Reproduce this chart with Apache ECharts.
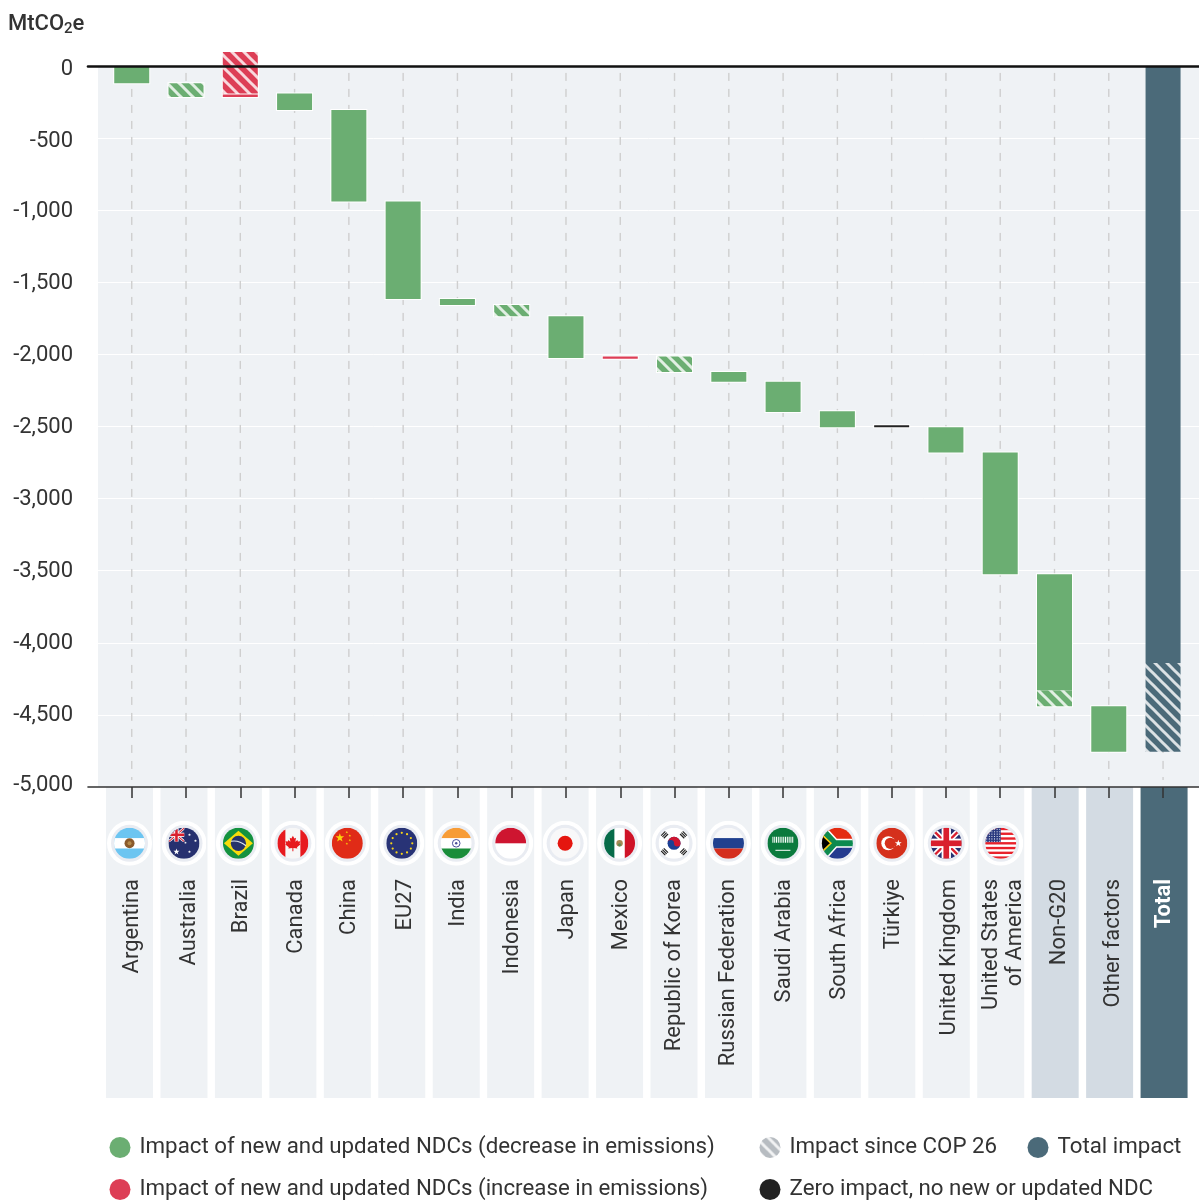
<!DOCTYPE html>
<html><head><meta charset="utf-8">
<style>html,body{margin:0;padding:0;background:#fff}#c{width:1199px;height:1200px}</style>
<script src="https://cdn.jsdelivr.net/npm/echarts@6/dist/echarts.min.js"></script>
</head><body><div id="c"></div>
<script>
const categories = ['Argentina','Australia','Brazil','Canada','China','EU27','India','Indonesia','Japan','Mexico','Republic of Korea','Russian Federation','Saudi Arabia','South Africa','Türkiye','United Kingdom','United States\nof America','Non-G20','Other factors','Total'];
const yTicks = [0,-500,-1000,-1500,-2000,-2500,-3000,-3500,-4000,-4500,-5000];
// [category, from, to] in MtCO2e
const decreaseBars = [['Argentina',0,-120],['Canada',-190,-305],['China',-305,-940],['EU27',-940,-1615],['India',-1615,-1657],['Japan',-1735,-2025],['Russian Federation',-2122,-2190],['Saudi Arabia',-2190,-2400],['South Africa',-2395,-2505],['United Kingdom',-2505,-2680],['United States\nof America',-2680,-3525],['Non-G20',-3525,-4330],['Other factors',-4440,-4755]];
const increaseBars = [['Brazil',-198,-215],['Mexico',-2015,-2030]];
const zeroBars = [['Türkiye',-2492,-2506]];
const totalBars = [['Total',0,-4140]];
const sinceCop26Green = [['Australia',-120,-215],['Indonesia',-1657,-1735],['Republic of Korea',-2015,-2122],['Non-G20',-4330,-4440]];
const sinceCop26Red = [['Brazil',97,-190]];
const sinceCop26Total = [['Total',-4140,-4755]];
const bandGroup = ['g','g','g','g','g','g','g','g','g','g','g','g','g','g','g','g','g','n','n','t'];
const bandValue = 1, flagRow = 0.819;

const GREEN='#6bae72', RED='#dd3e56', SLATE='#4b6a79', INK='#333333', FONT='Roboto';
function hatch(base){
  const c=document.createElement('canvas');c.width=12;c.height=12;
  const x=c.getContext('2d');x.fillStyle=base;x.fillRect(0,0,12,12);
  x.strokeStyle='rgba(255,255,255,.8)';x.lineWidth=3;
  [-12,0,12].forEach(o=>{x.beginPath();x.moveTo(o-2,-2);x.lineTo(o+14,14);x.stroke();});
  return {image:c,repeat:'repeat'};
}
function star(cx,cy,r,fill){let p=[];for(let i=0;i<10;i++){const a=-Math.PI/2+i*Math.PI/5,q=i%2?r*.4:r;p.push((cx+q*Math.cos(a)).toFixed(2)+','+(cy+q*Math.sin(a)).toFixed(2));}return `<polygon points="${p.join(' ')}" fill="${fill}"/>`;}
const R=(x,y,w,h,f)=>`<rect x="${x}" y="${y}" width="${w}" height="${h}" fill="${f}"/>`;
const C=(x,y,r,f)=>`<circle cx="${x}" cy="${y}" r="${r}" fill="${f}"/>`;
function unionJack(w,h){const l=(a,b,c,d,s,k)=>`<line x1="${a}" y1="${b}" x2="${c}" y2="${d}" stroke="${s}" stroke-width="${k}"/>`;const u=h/6;
  return R(0,0,w,h,'#26306f')+l(0,0,w,h,'#fff',u*1.1)+l(w,0,0,h,'#fff',u*1.1)+l(0,0,w,h,'#d91f2e',u*.45)+l(w,0,0,h,'#d91f2e',u*.45)+R(w/2-u*.9,0,u*1.8,h,'#fff')+R(0,h/2-u*.9,w,u*1.8,'#fff')+R(w/2-u*.55,0,u*1.1,h,'#d91f2e')+R(0,h/2-u*.55,w,u*1.1,'#d91f2e');}
function trigram(x,y,rot){let s='';for(let i=-1;i<=1;i++)s+=R(-3,i*1.9-.6,6,1.2,'#222');return `<g transform="translate(${x} ${y}) rotate(${rot})">${s}</g>`;}
function usa(){let s=R(0,0,31,31,'#fff');for(let i=0;i<7;i++)s+=R(0,i*4.77,31,2.38,'#e8212b');s+=R(0,0,15.5,14.3,'#2b3a80');for(let y=1.5;y<14;y+=2.4)for(let x=1.5;x<15;x+=2.6)s+=C(x,y,.55,'#fff');return s;}
function eu(){let s=R(0,0,31,31,'#283376');for(let i=0;i<12;i++){const a=i*Math.PI/6;s+=C(15.5+10.5*Math.cos(a),15.5+10.5*Math.sin(a),1.1,'#f7d417');}return s;}
const flagArt = {
 'Argentina':R(0,0,31,31,'#6cc5f1')+R(0,10.3,31,10.4,'#fff')+C(15.5,15.5,5,'#8a5a2b')+C(15.5,15.5,2,'#b58a4a'),
 'Australia':R(0,0,31,31,'#26306f')+`<svg x="0" y="0" width="16" height="14">${unionJack(16,14)}</svg>`+star(8,24,3.2,'#fff')+star(21,7,1.6,'#fff')+star(27,13,1.6,'#fff')+star(21,24,1.6,'#fff')+star(17,15,1.4,'#fff'),
 'Brazil':R(0,0,31,31,'#14923f')+'<polygon points="15.5,3 30,15.5 15.5,28 1,15.5" fill="#f9dc0a"/>'+C(15.5,15.5,7.6,'#27336b')+'<path d="M8 13.5 Q16 12 23 18" stroke="#dfe7ee" stroke-width="1.1" fill="none"/>',
 'Canada':R(0,0,31,31,'#f7f7f7')+R(0,0,8,31,'#e71a1f')+R(23,0,8,31,'#e71a1f')+'<polygon points="15.5,8 17,10.8 18.6,10 18,14 20,12.3 20.6,13.8 23,13.4 22.2,15.8 23,16.6 19.6,19.4 20,20.6 16,20.2 16,23.5 15,23.5 15,20.2 11,20.6 11.4,19.4 8,16.6 8.8,15.8 8,13.4 10.4,13.8 11,12.3 13,14 12.4,10 14,10.8" fill="#e71a1f"/>',
 'China':R(0,0,31,31,'#e02b17')+star(8,10,4.6,'#fcd30b')+star(15,4.5,1.3,'#fcd30b')+star(18,8,1.3,'#fcd30b')+star(18,12.5,1.3,'#fcd30b')+star(15,16,1.3,'#fcd30b'),
 'EU27':eu(),
 'India':R(0,0,31,31,'#fff')+R(0,0,31,10.3,'#f79c36')+R(0,20.7,31,10.3,'#1a8d3a')+'<circle cx="15.5" cy="15.5" r="3.8" fill="none" stroke="#4a4f9a" stroke-width="1"/>'+C(15.5,15.5,1.2,'#4a4f9a'),
 'Indonesia':R(0,0,31,31,'#fff')+R(0,0,31,15.5,'#ce1530'),
 'Japan':R(0,0,31,31,'#f8f8f9')+C(15.5,15.5,7.5,'#e5160f'),
 'Mexico':R(0,0,31,31,'#fff')+R(0,0,10.3,31,'#066b49')+R(20.7,0,10.3,31,'#cf1327')+C(15.5,15.5,3.2,'#a58a55')+C(15.5,17,1.6,'#5f8a55'),
 'Republic of Korea':R(0,0,31,31,'#fff')+C(15.5,15.5,6.5,'#1c3f94')+'<path d="M9 15.5a6.5 6.5 0 0 1 13 0a3.25 3.25 0 0 1-6.5 0a3.25 3.25 0 0 0-6.5 0z" fill="#ce1530"/>'+trigram(6,7,-45)+trigram(25,7,45)+trigram(6,24,45)+trigram(25,24,-45),
 'Russian Federation':R(0,0,31,31,'#f8f8f9')+R(0,10.3,31,10.4,'#20408f')+R(0,20.7,31,10.3,'#d42e1e'),
 'Saudi Arabia':R(0,0,31,31,'#0a7a3d')+'<line x1="5" y1="12" x2="26" y2="12" stroke="#fff" stroke-width="6" stroke-dasharray="1 .8"/>'+R(8,22,15,1,'#fff'),
 'South Africa':R(0,0,31,31,'#fff')+R(0,0,31,12.5,'#e42c12')+R(0,18.5,31,12.5,'#243b8f')+'<path d="M-2 -1L13 15.5L33 15.5M-2 32L13 15.5" stroke="#fff" stroke-width="9" fill="none"/><path d="M-2 -1L13 15.5L33 15.5M-2 32L13 15.5" stroke="#0d8a4f" stroke-width="6" fill="none"/><polygon points="-1,6 9,15.5 -1,25" fill="#000" stroke="#f9c80e" stroke-width="1.6"/>',
 'Türkiye':R(0,0,31,31,'#d5301c')+C(12,15.5,7,'#fff')+C(14,15.5,5.6,'#d5301c')+star(22,15.5,3.6,'#fff'),
 'United Kingdom':unionJack(31,31),
 'United States\nof America':usa()
};
function flagSymbol(name){
  const svg=`<svg xmlns="http://www.w3.org/2000/svg" width="45" height="45" viewBox="0 0 45 45"><defs><clipPath id="k"><circle cx="15.5" cy="15.5" r="15.5"/></clipPath></defs><circle cx="22.5" cy="22.5" r="22.5" fill="#fff"/><circle cx="22.5" cy="22.5" r="18.5" fill="#e9ecf2"/><g transform="translate(7 7)"><g clip-path="url(#k)">${flagArt[name]}</g></g></svg>`;
  return 'image://data:image/svg+xml;charset=utf-8,'+encodeURIComponent(svg);
}
const barWidth=35;
function barSeries(name,rows,fill,border){
  return {name,type:'custom',xAxisIndex:1,yAxisIndex:1,z:4,silent:true,animation:false,data:rows,
    itemStyle:{color:typeof fill==='string'?fill:GREEN},
    encode:{x:0,y:[1,2]},
    renderItem(p,api){
      const a=api.coord([api.value(0),api.value(1)]),b=api.coord([api.value(0),api.value(2)]);
      const x=a[0]-barWidth/2,y=a[1],h=b[1]-a[1],e=border?1:0;
      return {type:'group',children:[
        {type:'rect',shape:{x:x-e,y:y-e,width:barWidth+2*e,height:h+2*e},style:{fill:border?'#fff':'none'},z2:0},
        {type:'rect',shape:{x,y,width:barWidth,height:h},style:{fill},z2:1}
      ]};
    }};
}
const guideSeries={type:'custom',xAxisIndex:1,yAxisIndex:1,z:1,silent:true,animation:false,
  data:categories.map(c=>[c]),encode:{x:0},
  renderItem(p,api){
    const a=api.coord([api.value(0),-48]),b=api.coord([api.value(0),-5000]);
    return {type:'line',shape:{x1:a[0],y1:a[1],x2:b[0],y2:b[1]-7},style:{stroke:'#cfcfcf',lineWidth:1.4,lineDash:[8,8]}};
  }};
const bandColor={g:'#eff2f5',n:'#d3dbe3',t:SLATE};
const leg=(name,left,top,extra)=>({show:true,left,top,orient:'horizontal',selectedMode:false,itemWidth:29,itemHeight:21,icon:'circle',
  textStyle:{fontFamily:FONT,fontSize:22.3,color:INK},data:[Object.assign({name,icon:'circle'},extra||{})]});
const N1='Impact of new and updated NDCs (decrease in emissions)',N2='Impact of new and updated NDCs (increase in emissions)',N3='Impact since COP 26',N4='Total impact',N5='Zero impact, no new or updated NDC';
const yLabelFont={fontFamily:FONT,fontSize:22,color:INK};
// sideways nudge of each category label, px
const labelNudge=[1,3,1,2,1,2,1,1,2,1,0,0,1,2,2,4,3,5,5,1];
const xLabelRich={};
labelNudge.forEach((n,i)=>{xLabelRich['n'+i]={fontFamily:FONT,fontSize:22,color:i===19?'#fff':INK,fontWeight:i===19?'bold':'normal',lineHeight:24,padding:[2*n,0,0,0]};});

const chart=echarts.init(document.getElementById('c'),null,{renderer:'canvas'});
chart.setOption({
  animation:false,
  title:{left:3,top:7,text:'{a|MtCO}{s|2}{a|e}',textStyle:{rich:{
    a:{fontFamily:FONT,fontSize:22,fontWeight:500,color:INK,lineHeight:24},
    s:{fontFamily:FONT,fontSize:15,fontWeight:500,color:INK,padding:[11,0,0,0],lineHeight:24}}}},
  grid:[
    {left:98,right:0,top:66,height:721,show:true,backgroundColor:'#eff2f5',borderWidth:0},
    {left:104.6,width:1085.6,top:66,height:721},
    {left:102.3,width:1089,top:787,height:311},
    {left:88,right:0,top:66,height:721}
  ],
  xAxis:[
    {gridIndex:0,type:'value',show:false},
    {gridIndex:1,type:'category',data:categories,position:'bottom',z:10,
      axisLine:{show:false,onZero:false},axisTick:{show:true,alignWithLabel:true,length:11,lineStyle:{color:INK,width:1.5}},
      axisLabel:{interval:0,rotate:90,margin:92,hideOverlap:false,rich:xLabelRich,
        formatter:(v,i)=>v.split('\n').map(s=>`{n${i}|${s}}`).join('\n')},splitLine:{show:false}},
    {gridIndex:2,type:'category',data:categories,show:false},
    {gridIndex:3,type:'value',position:'top',z:10,axisLine:{show:true,onZero:false,lineStyle:{color:'#111',width:2.6}},axisTick:{show:false},axisLabel:{show:false},splitLine:{show:false}},
    {gridIndex:3,type:'value',position:'bottom',z:10,axisLine:{show:true,onZero:false,lineStyle:{color:'#333',width:1.6}},axisTick:{show:false},axisLabel:{show:false},splitLine:{show:false}}
  ],
  yAxis:[
    {gridIndex:0,type:'value',min:yTicks[yTicks.length-1],max:yTicks[0],interval:500,axisLine:{show:false},axisTick:{show:false},
      axisLabel:{margin:25,formatter:v=>`{${v>-1000?'u':v<-4900?'d':'m'}|${v.toLocaleString('en-US')}}`,
        rich:{u:{...yLabelFont,padding:[6,0,0,0]},m:{...yLabelFont,padding:[2,0,0,0]},d:{...yLabelFont,padding:[0,0,4,0]}}},
      splitLine:{show:true,lineStyle:{color:'#fff',width:1}}},
    {gridIndex:1,type:'value',min:-5000,max:0,interval:500,show:false},
    {gridIndex:2,type:'value',min:0,max:1,show:false},
    {gridIndex:3,type:'value',show:false}
  ],
  legend:[
    leg(N1,104.5,1131.5),
    leg(N2,104.5,1173.5),
    leg(N3,754.5,1131.5,{itemStyle:{color:hatch('#b7bcc1')}}),
    leg(N5,754.5,1173.5),
    leg(N4,1022.5,1131.5)
  ],
  series:[
    {type:'bar',xAxisIndex:2,yAxisIndex:2,barWidth:47,z:1,silent:true,animation:false,
      data:bandGroup.map(g=>({value:bandValue,itemStyle:{color:bandColor[g]}}))},
    {type:'scatter',xAxisIndex:2,yAxisIndex:2,z:3,silent:true,animation:false,itemStyle:{opacity:1},
      data:categories.slice(0,17).map(c=>({value:[c,flagRow],symbol:flagSymbol(c),symbolSize:45}))},
    guideSeries,
    barSeries(N1,decreaseBars,GREEN,true),
    barSeries(N2,increaseBars,RED,true),
    barSeries(N5,zeroBars,'#222222',true),
    barSeries(N4,totalBars,SLATE,false),
    barSeries(N3,sinceCop26Green,hatch(GREEN),true),
    barSeries(N3,sinceCop26Red,hatch(RED),true),
    barSeries(N3,sinceCop26Total,hatch(SLATE),false)
  ]
});
</script></body></html>
